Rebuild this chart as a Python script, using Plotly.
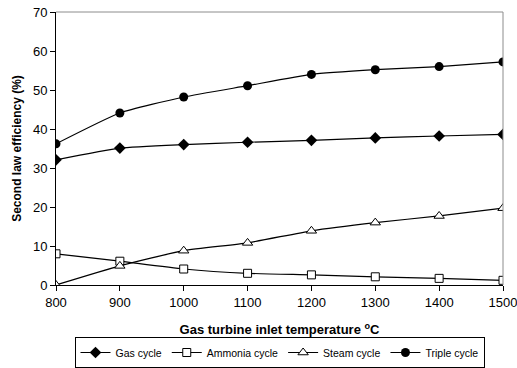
import plotly.graph_objects as go

temps = [800, 900, 1000, 1100, 1200, 1300, 1400, 1500]
gas_cycle = [32.1, 35.1, 36.0, 36.6, 37.1, 37.7, 38.2, 38.6]
ammonia_cycle = [8.0, 6.1, 4.1, 3.0, 2.6, 2.1, 1.7, 1.2]
steam_cycle = [0.0, 4.9, 8.8, 10.8, 13.9, 16.0, 17.7, 19.7]
triple_cycle = [36.2, 44.1, 48.2, 51.1, 54.0, 55.2, 56.0, 57.2]

fig = go.Figure()
line = dict(color="black", width=1.2, shape="spline", smoothing=0.5)
fig.add_trace(go.Scatter(x=temps, y=gas_cycle, name="Gas cycle", mode="lines+markers",
                         line=line, marker=dict(symbol="diamond", size=9, color="black")))
fig.add_trace(go.Scatter(x=temps, y=ammonia_cycle, name="Ammonia cycle", mode="lines+markers",
                         line=line, marker=dict(symbol="square", size=8, color="white",
                                                line=dict(color="black", width=1))))
fig.add_trace(go.Scatter(x=temps, y=steam_cycle, name="Steam cycle", mode="lines+markers",
                         line=line, marker=dict(symbol="triangle-up", size=9, color="white",
                                                line=dict(color="black", width=1))))
fig.add_trace(go.Scatter(x=temps, y=triple_cycle, name="Triple cycle", mode="lines+markers",
                         line=line, marker=dict(symbol="circle", size=9, color="black")))

fig.update_layout(
    width=517, height=368,
    margin=dict(l=56, r=14, t=12, b=83, autoexpand=False),
    paper_bgcolor="white", plot_bgcolor="white",
    font=dict(family="Liberation Sans, Arial, sans-serif", size=12, color="black"),
    showlegend=True,
    legend=dict(orientation="h", x=0.5, xanchor="center",
                yref="container", y=0.0, yanchor="bottom",
                bordercolor="black", borderwidth=1, font=dict(size=10.5),
                itemwidth=30, tracegroupgap=0, traceorder="normal"),
    shapes=[
        dict(type="line", xref="paper", yref="paper", x0=0, x1=1, y0=1, y1=1,
             line=dict(color="#8c8c8c", width=1)),
        dict(type="line", xref="paper", yref="paper", x0=1, x1=1, y0=0, y1=1,
             line=dict(color="#8c8c8c", width=1)),
    ],
)
fig.update_xaxes(range=[800, 1500], tickvals=temps, showgrid=False, zeroline=False,
                 showline=True, linecolor="black", linewidth=1, ticks="outside",
                 ticklen=5, tickcolor="black", tickfont=dict(size=13),
                 ticklabeloverflow="allow", automargin=False,
                 title=dict(text="<b>Gas turbine inlet temperature <sup>o</sup>C</b>",
                            font=dict(size=13), standoff=25))
fig.update_yaxes(range=[0, 70], dtick=10, showgrid=False, zeroline=False,
                 showline=True, linecolor="black", linewidth=1, ticks="outside",
                 ticklen=5, tickcolor="black", tickfont=dict(size=13),
                 automargin=False,
                 title=dict(text="<b>Second law efficiency (%)</b>", font=dict(size=12),
                            standoff=8))

fig.write_html("out.html")
